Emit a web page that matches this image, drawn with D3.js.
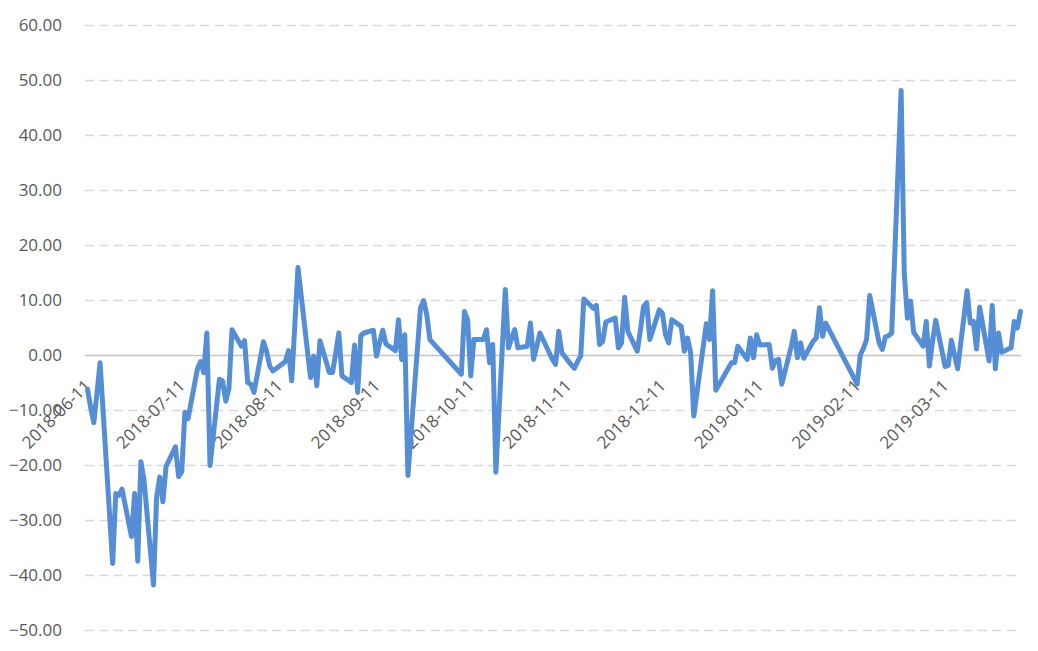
<!DOCTYPE html>
<html>
<head>
<meta charset="utf-8">
<script src="https://cdn.jsdelivr.net/npm/d3@7"></script>
<style>
  body { margin: 0; background: #fff; }
  #chart text { font-family: 'Open Sans', sans-serif; font-size: 17px; fill: #595959; }
</style>
</head>
<body>
<div id="chart"></div>
<script>
// trading days, 2018-06-11 .. 2019-04-04
const dates = [
  '2018-06-11', '2018-06-12', '2018-06-13', '2018-06-14', '2018-06-15', '2018-06-19', '2018-06-20', '2018-06-21', '2018-06-22',
  '2018-06-25', '2018-06-26', '2018-06-27', '2018-06-28', '2018-06-29',
  '2018-07-02', '2018-07-03', '2018-07-04', '2018-07-05', '2018-07-06', '2018-07-09', '2018-07-10', '2018-07-11', '2018-07-12', '2018-07-13',
  '2018-07-16', '2018-07-17', '2018-07-18', '2018-07-19', '2018-07-20', '2018-07-23', '2018-07-24', '2018-07-25', '2018-07-26', '2018-07-27',
  '2018-07-30', '2018-07-31',
  '2018-08-01', '2018-08-02', '2018-08-03', '2018-08-06', '2018-08-07', '2018-08-08', '2018-08-09', '2018-08-10',
  '2018-08-13', '2018-08-14', '2018-08-15', '2018-08-16', '2018-08-17', '2018-08-20', '2018-08-21', '2018-08-22', '2018-08-23', '2018-08-24',
  '2018-08-27', '2018-08-28', '2018-08-29', '2018-08-30', '2018-08-31',
  '2018-09-03', '2018-09-04', '2018-09-05', '2018-09-06', '2018-09-07', '2018-09-10', '2018-09-11', '2018-09-12', '2018-09-13', '2018-09-14',
  '2018-09-17', '2018-09-18', '2018-09-19', '2018-09-20', '2018-09-21', '2018-09-25', '2018-09-26', '2018-09-27', '2018-09-28',
  '2018-10-08', '2018-10-09', '2018-10-10', '2018-10-11', '2018-10-12', '2018-10-15', '2018-10-16', '2018-10-17', '2018-10-18', '2018-10-19',
  '2018-10-22', '2018-10-23', '2018-10-24', '2018-10-25', '2018-10-26', '2018-10-29', '2018-10-30', '2018-10-31',
  '2018-11-01', '2018-11-02', '2018-11-05', '2018-11-06', '2018-11-07', '2018-11-08', '2018-11-09', '2018-11-12', '2018-11-13', '2018-11-14',
  '2018-11-15', '2018-11-16', '2018-11-19', '2018-11-20', '2018-11-21', '2018-11-22', '2018-11-23', '2018-11-26', '2018-11-27', '2018-11-28',
  '2018-11-29', '2018-11-30',
  '2018-12-03', '2018-12-04', '2018-12-05', '2018-12-06', '2018-12-07', '2018-12-10', '2018-12-11', '2018-12-12', '2018-12-13', '2018-12-14',
  '2018-12-17', '2018-12-18', '2018-12-19', '2018-12-20', '2018-12-21', '2018-12-24', '2018-12-25', '2018-12-26', '2018-12-27', '2018-12-28',
  '2019-01-02', '2019-01-03', '2019-01-04', '2019-01-07', '2019-01-08', '2019-01-09', '2019-01-10', '2019-01-11',
  '2019-01-14', '2019-01-15', '2019-01-16', '2019-01-17', '2019-01-18', '2019-01-21', '2019-01-22', '2019-01-23', '2019-01-24', '2019-01-25',
  '2019-01-28', '2019-01-29', '2019-01-30', '2019-01-31', '2019-02-01',
  '2019-02-11', '2019-02-12', '2019-02-13', '2019-02-14', '2019-02-15', '2019-02-18', '2019-02-19', '2019-02-20', '2019-02-21', '2019-02-22',
  '2019-02-25', '2019-02-26', '2019-02-27', '2019-02-28', '2019-03-01',
  '2019-03-04', '2019-03-05', '2019-03-06', '2019-03-07', '2019-03-08', '2019-03-11', '2019-03-12', '2019-03-13', '2019-03-14', '2019-03-15',
  '2019-03-18', '2019-03-19', '2019-03-20', '2019-03-21', '2019-03-22', '2019-03-25', '2019-03-26', '2019-03-27', '2019-03-28', '2019-03-29',
  '2019-04-01', '2019-04-02', '2019-04-03', '2019-04-04'
]

const values = [
  -6.2, -9.5, -12.3, -7.0, -1.4, -37.9, -25.2, -25.5, -24.4,
  -33.0, -25.2, -37.5, -19.4, -22.8,
  -41.8, -25.8, -22.2, -26.7, -20.3, -16.7, -22.1, -21.2, -10.4, -11.6,
  -2.5, -1.2, -3.2, 4.0, -20.1, -4.4, -4.7, -8.4, -6.2, 4.6,
  1.6, 2.6,
  -5.0, -5.3, -6.8, 2.4, 0.7, -2.0, -2.9, -2.5,
  -1.2, 0.8, -4.7, 5.5, 15.9, 0.8, -4.1, -0.2, -5.6, 2.6,
  -3.2, -3.2, 0.3, 4.0, -3.8,
  -5.0, 1.8, -6.8, 3.5, 4.0, 4.5, -0.2, 2.3, 4.5, 2.0,
  0.8, 6.4, -0.8, 3.7, -21.9, 8.6, 9.9, 7.3, 2.8,
  -3.5, 7.9, 6.4, -3.8, 2.8, 2.8, 4.6, -1.4, 1.9, -21.3,
  11.9, 1.3, 3.0, 4.6, 1.3, 1.6, 5.8, -0.8,
  1.5, 4.0, 0.4, -0.8, -1.7, 4.3, 0.4, -1.8, -2.4, -1.2,
  -0.2, 10.2, 8.5, 9.0, 1.9, 2.5, 6.0, 6.7, 1.3, 2.2,
  10.5, 4.3,
  0.7, 4.5, 8.8, 9.5, 2.8, 8.2, 7.6, 3.7, 2.2, 6.4,
  5.2, 0.7, 3.1, 0.4, -11.1, 1.5, 5.7, 2.8, 11.7, -6.4,
  -1.4, -1.4, 1.6, -0.8, 3.1, -0.5, 3.7, 1.8,
  1.9, -2.4, -1.0, -0.8, -5.3, 1.5, 4.3, -0.5, 2.2, -0.6,
  2.5, 3.1, 8.6, 3.4, 5.8,
  -5.3, 0.0, 1.2, 2.8, 10.8, 2.2, 1.0, 3.3, 3.5, 4.0,
  48.1, 14.9, 6.7, 9.8, 4.1,
  1.6, 6.1, -2.0, 2.5, 6.3, -2.1, -1.9, 2.7, 0.0, -2.5,
  11.7, 5.8, 6.1, 1.1, 8.7, -1.1, 9.0, -2.5, 4.0, 0.5,
  1.3, 6.1, 4.9, 7.9
]

const yTicks = [-50, -40, -30, -20, -10, 0, 10, 20, 30, 40, 50, 60]

const xTickLabels = ['2018-06-11', '2018-07-11', '2018-08-11', '2018-09-11', '2018-10-11',
  '2018-11-11', '2018-12-11', '2019-01-11', '2019-02-11', '2019-03-11']

let width = 1038,
  height = 651

let plot = { left: 85, right: 1021, top: 25, bottom: 630 }

let svg = d3.select('#chart')
  .append('svg')
  .attr('width', width)
  .attr('height', height)

svg.append('rect').attr('width', width).attr('height', height).attr('fill', '#fff')

let parse = d3.utcParse('%Y-%m-%d')
let points = dates.map((d, i) => ({ date: parse(d), value: values[i] }))

let x = d3.scaleUtc()
  .domain([points[0].date, points[points.length - 1].date])
  .range([87.5, 1020.5])

let y = d3.scaleLinear()
  .domain([-50, 60])
  .range([plot.bottom, plot.top])

// y axis with gridlines
let yAxis = svg.append('g')
  .attr('transform', `translate(${plot.left},0)`)
  .call(d3.axisLeft(y)
    .tickValues(yTicks)
    .tickFormat(d3.format('.2f'))
    .tickSizeInner(-(plot.right - plot.left))
    .tickSizeOuter(0)
    .tickPadding(23))

yAxis.select('.domain').remove()
yAxis.selectAll('.tick line')
  .attr('stroke', d => d === 0 ? '#c4c4c4' : '#d9d9d9')
  .attr('stroke-width', 1.5)
  .attr('stroke-dasharray', d => d === 0 ? null : '9,5.4')
yAxis.selectAll('.tick text').attr('dy', '0.35em')

// x axis labels along the zero line
let xAxis = svg.append('g')
  .attr('transform', `translate(0,${y(0)})`)
  .call(d3.axisBottom(x)
    .tickValues(xTickLabels.map(parse))
    .tickFormat(d3.utcFormat('%Y-%m-%d'))
    .tickSize(0))

xAxis.select('.domain').remove()
xAxis.selectAll('.tick text')
  .attr('x', 0)
  .attr('y', 0)
  .attr('dy', 0)
  .attr('text-anchor', 'end')
  .attr('transform', 'translate(4,32) rotate(-45)')

// series
let line = d3.line()
  .x(d => x(d.date))
  .y(d => y(d.value))

svg.append('path')
  .datum(points)
  .attr('d', line)
  .attr('fill', 'none')
  .attr('stroke', '#558ed5')
  .attr('stroke-width', 5)
  .attr('stroke-linejoin', 'round')
  .attr('stroke-linecap', 'round')
</script>
</body>
</html>
